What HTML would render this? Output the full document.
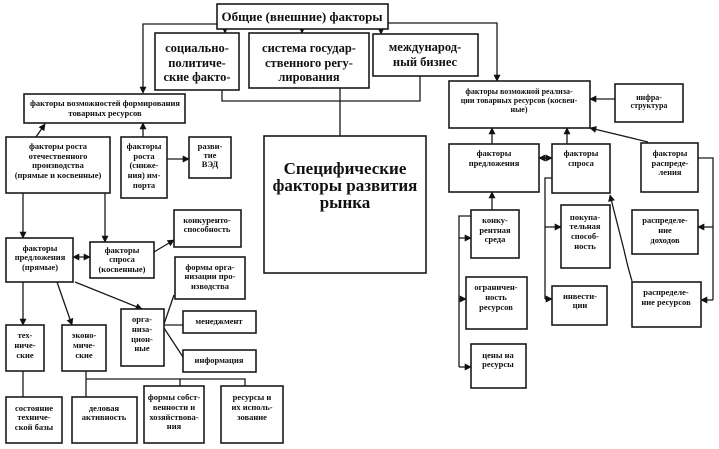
<!DOCTYPE html>
<html><head><meta charset="utf-8"><style>
html,body{margin:0;padding:0;background:#fff;}
svg{display:block;}
text{font-family:"Liberation Serif","DejaVu Serif",serif;font-weight:bold;fill:#111;text-anchor:middle;}
.s{font-size:8.5px;}
.m{font-size:12.5px;}
.b{font-size:17px;}
rect{fill:#fff;stroke:#1a1a1a;stroke-width:1.6;}
.l{fill:none;stroke:#1a1a1a;stroke-width:1.3;}
</style></head><body>
<svg width="719" height="449" viewBox="0 0 719 449" xmlns="http://www.w3.org/2000/svg">
<defs>
<marker id="a" viewBox="0 0 10 10" refX="9" refY="5" markerUnits="userSpaceOnUse" markerWidth="7" markerHeight="7" orient="auto-start-reverse"><path d="M0,0 L10,5 L0,10z" fill="#111"/></marker>
</defs>

<!-- connectors -->
<g class="l">
<polyline points="217,24 143,24 143,93" marker-end="url(#a)"/>
<line x1="225" y1="29" x2="225" y2="33" marker-end="url(#a)"/>
<line x1="302" y1="29" x2="302" y2="33" marker-end="url(#a)"/>
<line x1="381" y1="29" x2="381" y2="34" marker-end="url(#a)"/>
<polyline points="388,23 497,23 497,81" marker-end="url(#a)"/>
<polyline points="222,90 222,101 420,101 420,76"/>
<line x1="340" y1="88" x2="340" y2="136"/>
<line x1="36" y1="137" x2="45" y2="124" marker-end="url(#a)"/>
<line x1="143" y1="137" x2="143" y2="123" marker-end="url(#a)"/>
<line x1="167" y1="159" x2="189" y2="159" marker-end="url(#a)"/>
<line x1="23" y1="193" x2="23" y2="238" marker-end="url(#a)"/>
<line x1="105" y1="193" x2="105" y2="242" marker-end="url(#a)"/>
<line x1="73" y1="257" x2="90" y2="257" marker-start="url(#a)" marker-end="url(#a)"/>
<line x1="154" y1="252" x2="174" y2="240" marker-end="url(#a)"/>
<line x1="23" y1="282" x2="23" y2="325" marker-end="url(#a)"/>
<line x1="57" y1="282" x2="72" y2="325" marker-end="url(#a)"/>
<line x1="75" y1="282" x2="142" y2="309" marker-end="url(#a)"/>
<line x1="164" y1="324" x2="174" y2="295"/>
<line x1="164" y1="325" x2="183" y2="325"/>
<line x1="164" y1="328" x2="183" y2="357"/>
<line x1="23" y1="371" x2="23" y2="397"/>
<line x1="86" y1="371" x2="86" y2="397"/>
<polyline points="86,379 245,379 245,386"/>
<line x1="180" y1="379" x2="180" y2="386"/>

<line x1="615" y1="99" x2="590" y2="99" marker-end="url(#a)"/>
<line x1="492" y1="144" x2="492" y2="128" marker-end="url(#a)"/>
<line x1="567" y1="144" x2="567" y2="128" marker-end="url(#a)"/>
<line x1="648" y1="142" x2="590" y2="128" marker-end="url(#a)"/>
<line x1="539" y1="158" x2="552" y2="158" marker-start="url(#a)" marker-end="url(#a)"/>
<line x1="492" y1="210" x2="492" y2="192" marker-end="url(#a)"/>
<polyline points="471,216 459,216 459,367"/>
<line x1="459" y1="238" x2="471" y2="238" marker-end="url(#a)"/>
<line x1="459" y1="299" x2="466" y2="299" marker-end="url(#a)"/>
<line x1="459" y1="367" x2="471" y2="367" marker-end="url(#a)"/>
<polyline points="552,178 545,178 545,299"/>
<line x1="545" y1="227" x2="561" y2="227" marker-end="url(#a)"/>
<line x1="545" y1="299" x2="552" y2="299" marker-end="url(#a)"/>
<polyline points="698,158 713,158 713,300"/>
<line x1="713" y1="227" x2="698" y2="227" marker-end="url(#a)"/>
<line x1="713" y1="300" x2="701" y2="300" marker-end="url(#a)"/>
<path d="M632,281 Q628,268 624,250 L610,195" marker-end="url(#a)"/>
</g>

<!-- boxes -->
<rect x="217" y="4" width="171" height="25"/>
<text class="m" x="302" y="21" style="font-size:13px">Общие (внешние) факторы</text>

<rect x="155" y="33" width="84" height="57"/>
<text class="m" x="197" y="52">социально-</text>
<text class="m" x="197" y="67">политиче-</text>
<text class="m" x="197" y="81">ские факто-</text>

<rect x="249" y="33" width="120" height="55"/>
<text class="m" x="309" y="52">система государ-</text>
<text class="m" x="309" y="67">ственного регу-</text>
<text class="m" x="309" y="81">лирования</text>

<rect x="373" y="34" width="105" height="42"/>
<text class="m" x="425" y="51">международ-</text>
<text class="m" x="425" y="66">ный бизнес</text>

<rect x="24" y="94" width="161" height="29"/>
<text class="s" x="105" y="106">факторы  возможностей формирования</text>
<text class="s" x="105" y="116">товарных ресурсов</text>

<rect x="449" y="81" width="141" height="47"/>
<text class="s" x="519" y="94" style="font-size:8px">факторы  возможной реализа-</text>
<text class="s" x="519" y="103" style="font-size:8px">ции товарных ресурсов (косвен-</text>
<text class="s" x="519" y="112" style="font-size:8px">ные)</text>

<rect x="615" y="84" width="68" height="38"/>
<text class="s" x="649" y="100" style="font-size:8px">инфра-</text>
<text class="s" x="649" y="108" style="font-size:8px">структура</text>

<rect x="6" y="137" width="104" height="56"/>
<text class="s" x="58" y="149">факторы роста</text>
<text class="s" x="58" y="159">отечественного</text>
<text class="s" x="58" y="168">производства</text>
<text class="s" x="58" y="178">(прямые и косвенные)</text>

<rect x="121" y="137" width="46" height="61"/>
<text class="s" x="144" y="149">факторы</text>
<text class="s" x="144" y="159">роста</text>
<text class="s" x="144" y="168">(сниже-</text>
<text class="s" x="144" y="178">ния) им-</text>
<text class="s" x="144" y="188">порта</text>

<rect x="189" y="137" width="42" height="41"/>
<text class="s" x="210" y="149">разви-</text>
<text class="s" x="210" y="158">тие</text>
<text class="s" x="210" y="167">ВЭД</text>

<rect x="264" y="136" width="162" height="137"/>
<text class="b" x="345" y="174">Специфические</text>
<text class="b" x="345" y="191">факторы развития</text>
<text class="b" x="345" y="208">рынка</text>

<rect x="6" y="238" width="67" height="44"/>
<text class="s" x="40" y="251">факторы</text>
<text class="s" x="40" y="260">предложения</text>
<text class="s" x="40" y="270">(прямые)</text>

<rect x="90" y="242" width="64" height="36"/>
<text class="s" x="122" y="253">факторы</text>
<text class="s" x="122" y="262">спроса</text>
<text class="s" x="122" y="272">(косвенные)</text>

<rect x="174" y="210" width="67" height="37"/>
<text class="s" x="207" y="223">конкуренто-</text>
<text class="s" x="207" y="232">способность</text>

<rect x="175" y="257" width="70" height="42"/>
<text class="s" x="210" y="270">формы орга-</text>
<text class="s" x="210" y="279">низации про-</text>
<text class="s" x="210" y="289">изводства</text>

<rect x="183" y="311" width="73" height="22"/>
<text class="s" x="219" y="324">менеджмент</text>

<rect x="183" y="350" width="73" height="22"/>
<text class="s" x="219" y="363">информация</text>

<rect x="121" y="309" width="43" height="57"/>
<text class="s" x="142" y="322">орга-</text>
<text class="s" x="142" y="332">низа-</text>
<text class="s" x="142" y="342">цион-</text>
<text class="s" x="142" y="351">ные</text>

<rect x="6" y="325" width="38" height="46"/>
<text class="s" x="25" y="338">тех-</text>
<text class="s" x="25" y="348">ниче-</text>
<text class="s" x="25" y="358">ские</text>

<rect x="62" y="325" width="44" height="46"/>
<text class="s" x="84" y="338">эконо-</text>
<text class="s" x="84" y="348">миче-</text>
<text class="s" x="84" y="358">ские</text>

<rect x="6" y="397" width="56" height="46"/>
<text class="s" x="34" y="411">состояние</text>
<text class="s" x="34" y="420">техниче-</text>
<text class="s" x="34" y="430">ской базы</text>

<rect x="72" y="397" width="65" height="46"/>
<text class="s" x="104" y="411">деловая</text>
<text class="s" x="104" y="420">активность</text>

<rect x="144" y="386" width="60" height="57"/>
<text class="s" x="174" y="400">формы собст-</text>
<text class="s" x="174" y="410">венности и</text>
<text class="s" x="174" y="420">хозяйствова-</text>
<text class="s" x="174" y="429">ния</text>

<rect x="221" y="386" width="62" height="57"/>
<text class="s" x="252" y="400">ресурсы и</text>
<text class="s" x="252" y="410">их исполь-</text>
<text class="s" x="252" y="420">зование</text>

<rect x="449" y="144" width="90" height="48"/>
<text class="s" x="494" y="156">факторы</text>
<text class="s" x="494" y="166">предложения</text>

<rect x="552" y="144" width="58" height="49"/>
<text class="s" x="581" y="156">факторы</text>
<text class="s" x="581" y="166">спроса</text>

<rect x="641" y="143" width="57" height="49"/>
<text class="s" x="670" y="156">факторы</text>
<text class="s" x="670" y="166">распреде-</text>
<text class="s" x="670" y="175">ления</text>

<rect x="471" y="210" width="48" height="48"/>
<text class="s" x="495" y="223">конку-</text>
<text class="s" x="495" y="233">рентная</text>
<text class="s" x="495" y="242">среда</text>

<rect x="561" y="205" width="49" height="63"/>
<text class="s" x="585" y="220">покупа-</text>
<text class="s" x="585" y="229">тельная</text>
<text class="s" x="585" y="239">способ-</text>
<text class="s" x="585" y="249">ность</text>

<rect x="632" y="210" width="66" height="44"/>
<text class="s" x="665" y="223">распределе-</text>
<text class="s" x="665" y="233">ние</text>
<text class="s" x="665" y="243">доходов</text>

<rect x="466" y="277" width="61" height="52"/>
<text class="s" x="496" y="290">ограничен-</text>
<text class="s" x="496" y="300">ность</text>
<text class="s" x="496" y="310">ресурсов</text>

<rect x="471" y="344" width="55" height="44"/>
<text class="s" x="498" y="358">цены на</text>
<text class="s" x="498" y="367">ресурсы</text>

<rect x="552" y="286" width="55" height="39"/>
<text class="s" x="580" y="299">инвести-</text>
<text class="s" x="580" y="308">ции</text>

<rect x="632" y="282" width="69" height="45"/>
<text class="s" x="666" y="295">распределе-</text>
<text class="s" x="666" y="305">ние ресурсов</text>
</svg>
</body></html>
